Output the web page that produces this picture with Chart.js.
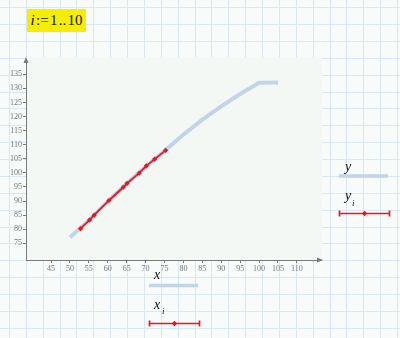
<!DOCTYPE html>
<html>
<head>
<meta charset="utf-8">
<script src="https://cdn.jsdelivr.net/npm/chart.js@4"></script>
<style>
  html, body { margin: 0; padding: 0; background: #f7fbf9; overflow: hidden; }
  #wrap { position: relative; width: 400px; height: 338px; }
  #plot { position: absolute; left: 0; top: 0; }
  .lbl { position: absolute; font-family: "Liberation Serif", "DejaVu Serif", serif; font-style: italic; line-height: 1; color: #111; white-space: nowrap; }
  .sub { position: absolute; font-family: "Liberation Serif", serif; font-style: italic; font-size: 9px; line-height: 1; color: #111; }
  #title { position: absolute; left: 27px; top: 9px; width: 59px; height: 23px; background: #f6ee00;
           font-family: "Liberation Serif", "DejaVu Serif", serif; font-size: 15px; line-height: 23px; color: #111; text-align: center; }
</style>
</head>
<body>
<div id="wrap">
  <canvas id="plot" width="400" height="338"></canvas>
  <div id="title"><i>i</i>&#8202;:=&#8202;1&#8202;..&#8202;10</div>
  <span class="lbl" style="left:345px;top:160px;font-size:14px;">y</span>
  <span class="lbl" style="left:345px;top:189px;font-size:14px;">y</span>
  <span class="sub" style="left:352px;top:199px;">i</span>
  <span class="lbl" style="left:154px;top:268px;font-size:14px;">x</span>
  <span class="lbl" style="left:154px;top:298px;font-size:14px;">x</span>
  <span class="sub" style="left:162px;top:307px;">i</span>
</div>
<script>
// full curve y(x)
var curveX = [50, 55, 60, 65, 70, 75, 80, 85, 90, 95, 100, 105];
var curveY = [77.1, 83.1, 89.9, 96.2, 102.2, 107.8, 113.6, 118.9, 123.6, 128, 132, 132.1];

// sampled points x_i, y_i for i = 1..10
var sampleX = [52.8, 55.2, 56.4, 60.3, 64.1, 65.1, 68.3, 70.2, 72.4, 75.3];
var sampleY = [80.2, 83.3, 85.0, 90.2, 94.9, 96.3, 99.9, 102.5, 104.9, 108.0];

var xTicks = [45, 50, 55, 60, 65, 70, 75, 80, 85, 90, 95, 100, 105, 110];
var yTicks = [75, 80, 85, 90, 95, 100, 105, 110, 115, 120, 125, 130, 135];

var blue = '#c3d4ea';
var red = '#ec1520';
var axisGrey = '#7a7a7a';

function toPoints(xs, ys) {
   var pts = [];
   for (var i = 0; i < xs.length; i++) {
      pts.push({ x: xs[i], y: ys[i] });
   }
   return pts;
}

// page grid, plot panel, axis arrows and legend samples
var decor = {
   id: 'decor',
   beforeDraw: function(chart) {
      var ctx = chart.ctx;
      var a = chart.chartArea;
      ctx.save();
      ctx.fillStyle = '#f7fbf9';
      ctx.fillRect(0, 0, 400, 338);
      ctx.strokeStyle = '#d8e7f3';
      ctx.lineWidth = 1;
      var step = 16.87;
      for (var gx = 9; gx < 400; gx += step) {
         ctx.beginPath();
         ctx.moveTo(Math.round(gx) + 0.5, 0);
         ctx.lineTo(Math.round(gx) + 0.5, 338);
         ctx.stroke();
      }
      for (var gy = 7.2; gy < 338; gy += step) {
         ctx.beginPath();
         ctx.moveTo(0, Math.round(gy) + 0.5);
         ctx.lineTo(400, Math.round(gy) + 0.5);
         ctx.stroke();
      }
      ctx.fillStyle = '#f3f8f5';
      ctx.fillRect(a.left, 57.5, 322 - a.left, a.bottom - 57.5);
      ctx.restore();
   },
   afterDraw: function(chart) {
      var ctx = chart.ctx;
      var a = chart.chartArea;
      ctx.save();
      ctx.fillStyle = axisGrey;
      ctx.beginPath();
      ctx.moveTo(a.left, a.top - 2);
      ctx.lineTo(a.left - 2.5, a.top + 4);
      ctx.lineTo(a.left + 2.5, a.top + 4);
      ctx.closePath();
      ctx.fill();
      ctx.beginPath();
      ctx.moveTo(a.right + 2, a.bottom);
      ctx.lineTo(a.right - 4, a.bottom - 2.5);
      ctx.lineTo(a.right - 4, a.bottom + 2.5);
      ctx.closePath();
      ctx.fill();

      // legend samples
      ctx.lineCap = 'butt';
      ctx.strokeStyle = blue;
      ctx.lineWidth = 3.5;
      ctx.beginPath();
      ctx.moveTo(339, 176); ctx.lineTo(388, 176);
      ctx.moveTo(149, 285.5); ctx.lineTo(198, 285.5);
      ctx.stroke();

      function redSample(x0, x1, y) {
         ctx.strokeStyle = red;
         ctx.lineWidth = 1.7;
         ctx.beginPath();
         ctx.moveTo(x0, y); ctx.lineTo(x1, y);
         ctx.moveTo(x0, y - 3); ctx.lineTo(x0, y + 3);
         ctx.moveTo(x1, y - 3); ctx.lineTo(x1, y + 3);
         ctx.stroke();
         var m = (x0 + x1) / 2;
         ctx.fillStyle = red;
         ctx.beginPath();
         ctx.moveTo(m, y - 2.7); ctx.lineTo(m + 2.7, y);
         ctx.lineTo(m, y + 2.7); ctx.lineTo(m - 2.7, y);
         ctx.closePath();
         ctx.fill();
      }
      redSample(339.5, 389.5, 213.5);
      redSample(149.5, 199.5, 323.5);
      ctx.restore();
   }
};

var tickFont = { family: '"Liberation Serif", "DejaVu Serif", serif', size: 8 };

new Chart(document.getElementById('plot').getContext('2d'), {
   type: 'scatter',
   data: {
      datasets: [{
         // thick curve, drawn underneath
         data: toPoints(curveX, curveY),
         order: 2,
         showLine: true,
         borderColor: blue,
         borderWidth: 4,
         pointRadius: 0,
         tension: 0
      }, {
         data: toPoints(sampleX, sampleY),
         order: 1,
         showLine: true,
         borderColor: red,
         backgroundColor: red,
         borderWidth: 1.8,
         pointStyle: 'rectRot',
         pointRadius: 2.6,
         pointBorderWidth: 0,
         tension: 0
      }]
   },
   options: {
      responsive: false,
      animation: false,
      events: [],
      layout: { padding: { top: 59, right: 79, left: 0, bottom: 0 } },
      plugins: { legend: { display: false }, tooltip: { enabled: false } },
      scales: {
         x: {
            type: 'linear',
            min: 38.39,
            max: 116.37,
            afterFit: function(scale) { scale.height = 78; },
            afterBuildTicks: function(scale) {
               scale.ticks = xTicks.map(function(v) { return { value: v }; });
            },
            grid: { drawOnChartArea: false, color: axisGrey, tickLength: 3 },
            border: { color: axisGrey, width: 1 },
            ticks: { color: '#777', font: tickFont, padding: 1, maxRotation: 0, autoSkip: false }
         },
         y: {
            type: 'linear',
            min: 69.07,
            max: 140.43,
            afterFit: function(scale) { scale.width = 26; },
            afterBuildTicks: function(scale) {
               scale.ticks = yTicks.map(function(v) { return { value: v }; });
            },
            grid: { drawOnChartArea: false, color: axisGrey, tickLength: 3 },
            border: { color: axisGrey, width: 1 },
            ticks: { color: '#777', font: tickFont, padding: 1, autoSkip: false }
         }
      }
   },
   plugins: [decor]
});
</script>
</body>
</html>
